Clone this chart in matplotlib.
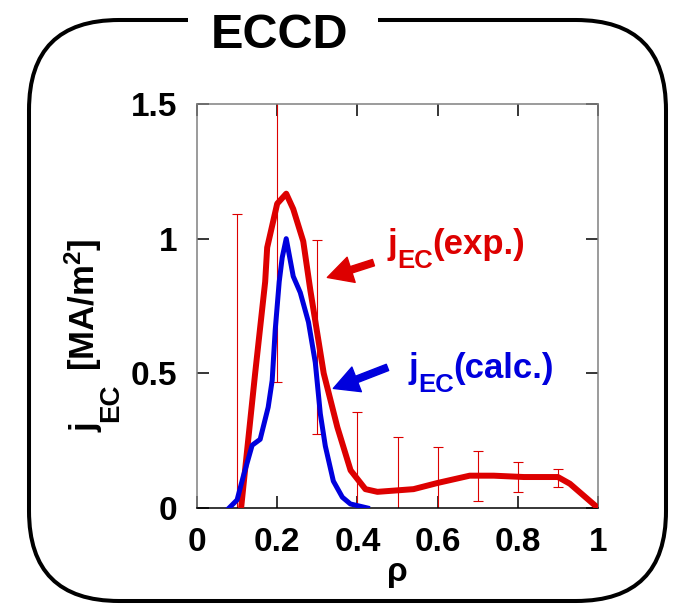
import matplotlib
matplotlib.use("Agg")
import matplotlib.pyplot as plt
from matplotlib.patches import FancyBboxPatch, Rectangle
from matplotlib.transforms import IdentityTransform

# j_EC(exp.) profile
rho_exp = [0.11, 0.145, 0.17, 0.175, 0.20, 0.2225, 0.24, 0.265, 0.2825, 0.316, 0.35, 0.383,
           0.42, 0.45, 0.54, 0.60, 0.68, 0.74, 0.815, 0.90, 0.93, 1.0]
j_exp = [0.0, 0.5, 0.84, 0.967, 1.13, 1.167, 1.11, 0.99, 0.81, 0.5, 0.30, 0.14,
         0.07, 0.06, 0.07, 0.093, 0.12, 0.12, 0.115, 0.115, 0.09, 0.0]

# j_EC(calc.) profile
rho_calc = [0.08, 0.10, 0.115, 0.1375, 0.1575, 0.1775, 0.1875, 0.195, 0.205, 0.2125, 0.2225,
            0.24, 0.2575, 0.278, 0.295, 0.3075, 0.32, 0.34, 0.3625, 0.3825, 0.425]
j_calc = [0.0, 0.03, 0.115, 0.233, 0.255, 0.374, 0.474, 0.66, 0.84, 0.93, 1.0,
          0.86, 0.80, 0.69, 0.54, 0.35, 0.23, 0.10, 0.04, 0.015, 0.0]

# error bars on exp.
eb_rho = [0.1, 0.2, 0.3, 0.4, 0.5, 0.6, 0.7, 0.8, 0.9]
eb_j = [0.0, 1.13, 0.635, 0.11, 0.065, 0.09, 0.118, 0.115, 0.111]
eb_err = [1.09, 0.663, 0.36, 0.246, 0.2, 0.136, 0.093, 0.056, 0.033]

xticks = [0, 0.2, 0.4, 0.6, 0.8, 1.0]
xtick_labels = ["0", "0.2", "0.4", "0.6", "0.8", "1"]
yticks = [0, 0.5, 1.0, 1.5]
ytick_labels = ["0", "0.5", "1", "1.5"]

RED = "#dd0000"
BLUE = "#0000dd"

plt.rcParams["font.family"] = ["Liberation Sans", "DejaVu Sans"]
plt.rcParams["font.weight"] = "bold"
plt.rcParams["axes.labelweight"] = "bold"
plt.rcParams["mathtext.fontset"] = "custom"
plt.rcParams["mathtext.rm"] = "Liberation Sans:bold"
plt.rcParams["mathtext.it"] = "Liberation Sans:bold"
plt.rcParams["mathtext.bf"] = "Liberation Sans:bold"

W, H = 675, 604
fig = plt.figure(figsize=(W / 100, H / 100), dpi=100)
renderer = fig.canvas.get_renderer()


def piece_text(ax, x, y, parts, color, coords="data", rotation=0):
    # parts: (text, fontsize, drop below baseline [pt], gap before [pt])
    pos = 0.0
    for s, size, drop, gap in parts:
        pos += gap
        off = (pos, -drop) if rotation == 0 else (drop, pos)
        t = ax.annotate(s, xy=(x, y), xycoords=coords, xytext=off, textcoords="offset points",
                        ha="left", va="baseline", rotation=rotation, rotation_mode="anchor",
                        fontsize=size, fontweight="bold", color=color, annotation_clip=False)
        bb = t.get_window_extent(renderer)
        pos += (bb.width if rotation == 0 else bb.height) * 72 / fig.dpi


# rounded frame with the title sitting in a gap of the top edge
frame = FancyBboxPatch((29, 3), 637, 581, boxstyle="round,pad=0,rounding_size=90",
                       transform=IdentityTransform(), fill=False, lw=2.9, ec="black", zorder=1)
fig.add_artist(frame)
fig.add_artist(Rectangle((188, 574), 190, 20, transform=IdentityTransform(),
                         fc="white", ec="none", zorder=2))
fig.text(280 / W, (H - 48) / H, "ECCD", fontsize=35, fontweight="bold",
         ha="center", va="baseline", zorder=3)

ax = fig.add_axes([197 / W, (H - 508) / H, 401 / W, 404 / H])

ax.errorbar(eb_rho, eb_j, yerr=eb_err, fmt="none", ecolor=RED, elinewidth=0.8,
            capsize=3.6, capthick=0.8, zorder=2)
ax.plot(rho_exp, j_exp, color=RED, lw=4.3, solid_joinstyle="round", zorder=3)
ax.plot(rho_calc, j_calc, color=BLUE, lw=3.6, solid_joinstyle="round", zorder=4)

ax.set_xlim(0, 1)
ax.set_ylim(0, 1.5)
ax.set_xticks(xticks, labels=xtick_labels)
ax.set_yticks(yticks, labels=ytick_labels)
ax.tick_params(direction="in", length=8.6, width=1.1, top=True, right=True,
               labelsize=24, pad=14)
for side in ["left", "top", "right"]:
    ax.spines[side].set_color("#808080")
    ax.spines[side].set_linewidth(1.1)
ax.spines["bottom"].set_color("black")
ax.spines["bottom"].set_linewidth(1.1)

ax.set_xlabel("ρ", fontsize=24, fontweight="bold")
ax.xaxis.set_label_coords(0.5, -0.122)

# y label: j_EC [MA/m^2], written bottom to top
piece_text(ax, (95 - 197) / 401, (508 - 432) / 404,
           [("j", 25, 0, 0), ("EC", 20, 17, 0.5), ("[MA/m$^\\mathrm{2}$]", 25, 0, 9)],
           "black", coords="axes fraction", rotation=90)

# labels with arrows
piece_text(ax, 0.475, 0.944, [("j", 25, 0, 0), ("EC", 18.5, 10, 0.3), ("(exp.)", 25, 0, -1)], RED)
ax.annotate("", xy=(0.325, 0.856), xytext=(0.44, 0.911),
            arrowprops=dict(arrowstyle="simple,head_length=0.9,head_width=0.95,tail_width=0.24",
                            color=RED, shrinkA=0, shrinkB=0, mutation_scale=20))
piece_text(ax, 0.5275, 0.481, [("j", 25, 0, 0), ("EC", 18.5, 10, 0.3), ("(calc.)", 25, 0, -1)], BLUE)
ax.annotate("", xy=(0.34, 0.444), xytext=(0.475, 0.522),
            arrowprops=dict(arrowstyle="simple,head_length=0.9,head_width=0.95,tail_width=0.24",
                            color=BLUE, shrinkA=0, shrinkB=0, mutation_scale=20))

fig.savefig("out.png", dpi=100)
